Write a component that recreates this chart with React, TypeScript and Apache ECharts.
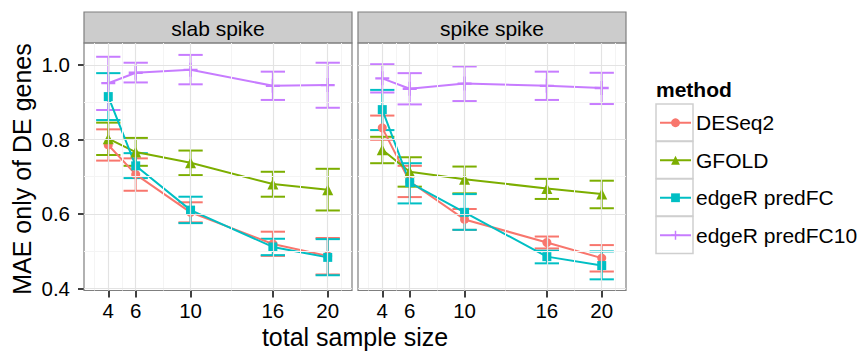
import React, { useEffect, useRef } from "react";
import * as echarts from "echarts";

const sampleSizes = [4, 6, 10, 16, 20];
const methods = ["DESeq2", "GFOLD", "edgeR predFC", "edgeR predFC10"];
const panels = ["slab spike", "spike spike"];
const yTicks = [0.4, 0.6, 0.8, 1.0];
const yMinor = [0.5, 0.7, 0.9];
const xMinor = [3, 5, 8, 13, 18, 21];

// slab spike
const slabDESeq2Mean = [0.785, 0.706, 0.604, 0.519, 0.487];
const slabDESeq2Lo = [0.743, 0.662, 0.577, 0.487, 0.437];
const slabDESeq2Hi = [0.827, 0.749, 0.631, 0.552, 0.535];
const slabGFOLDMean = [0.802, 0.766, 0.737, 0.68, 0.665];
const slabGFOLDLo = [0.758, 0.729, 0.704, 0.646, 0.609];
const slabGFOLDHi = [0.845, 0.804, 0.77, 0.713, 0.721];
const slabPredFCMean = [0.915, 0.729, 0.61, 0.511, 0.483];
const slabPredFCLo = [0.852, 0.696, 0.575, 0.489, 0.435];
const slabPredFCHi = [0.978, 0.763, 0.646, 0.533, 0.532];
const slabPredFC10Mean = [0.951, 0.979, 0.987, 0.944, 0.946];
const slabPredFC10Lo = [0.879, 0.953, 0.948, 0.906, 0.885];
const slabPredFC10Hi = [1.022, 1.006, 1.027, 0.982, 1.006];

// spike spike
const spikeDESeq2Mean = [0.831, 0.687, 0.585, 0.523, 0.481];
const spikeDESeq2Lo = [0.799, 0.645, 0.557, 0.507, 0.445];
const spikeDESeq2Hi = [0.864, 0.729, 0.613, 0.539, 0.516];
const spikeGFOLDMean = [0.772, 0.713, 0.693, 0.668, 0.653];
const spikeGFOLDLo = [0.736, 0.673, 0.655, 0.64, 0.615];
const spikeGFOLDHi = [0.807, 0.752, 0.727, 0.694, 0.689];
const spikePredFCMean = [0.88, 0.684, 0.604, 0.485, 0.461];
const spikePredFCLo = [0.825, 0.628, 0.557, 0.467, 0.424];
const spikePredFCHi = [0.933, 0.736, 0.653, 0.501, 0.499];
const spikePredFC10Mean = [0.964, 0.936, 0.95, 0.944, 0.938];
const spikePredFC10Lo = [0.926, 0.894, 0.903, 0.906, 0.895];
const spikePredFC10Hi = [1.002, 0.978, 0.996, 0.982, 0.979];

const colors = ["#F8766D", "#7CAE00", "#00BFC4", "#C77CFF"];
const PLUS = "path://M5,0h2v5h5v2h-5v5h-2v-5h-5v-2h5z";
const symbols = ["circle", "triangle", "rect", PLUS];
const symbolSizes = [9, 11, 9, 14];

const FONT = "'Liberation Sans', Arial, Helvetica, sans-serif";

const panelData = [
  [
    [slabDESeq2Mean, slabDESeq2Lo, slabDESeq2Hi],
    [slabGFOLDMean, slabGFOLDLo, slabGFOLDHi],
    [slabPredFCMean, slabPredFCLo, slabPredFCHi],
    [slabPredFC10Mean, slabPredFC10Lo, slabPredFC10Hi],
  ],
  [
    [spikeDESeq2Mean, spikeDESeq2Lo, spikeDESeq2Hi],
    [spikeGFOLDMean, spikeGFOLDLo, spikeGFOLDHi],
    [spikePredFCMean, spikePredFCLo, spikePredFCHi],
    [spikePredFC10Mean, spikePredFC10Lo, spikePredFC10Hi],
  ],
];

const CAP_HALF = 0.885;

export default function App() {
  const ref = useRef<HTMLDivElement>(null);
  useEffect(() => {
    if (!ref.current) return;
    const chart = echarts.init(ref.current, undefined, { renderer: "svg" });

    const gridLefts = [84, 358];
    const gridWidth = 268;
    const gridTop = 43;
    const gridHeight = 247.5;

    const grids = gridLefts.map((l) => ({
      left: l,
      top: gridTop,
      width: gridWidth,
      height: gridHeight,
      show: true,
      backgroundColor: "transparent",
      borderColor: "#7f7f7f",
      borderWidth: 1.2,
      z: 5,
    }));

    const xAxes = gridLefts.map((_, i) => ({
      type: "value",
      gridIndex: i,
      min: 2.23,
      max: 21.77,
      axisLine: { show: false },
      splitLine: { show: false },
      axisTick: {
        show: true,
        customValues: sampleSizes,
        length: 7,
        lineStyle: { color: "#000", width: 1.5 },
      },
      axisLabel: {
        show: true,
        customValues: sampleSizes,
        fontSize: 20.5,
        fontFamily: FONT,
        color: "#000",
        margin: 9,
      },
    }));

    const yAxes = gridLefts.map((_, i) => ({
      type: "value",
      gridIndex: i,
      min: 0.394,
      max: 1.059,
      axisLine: { show: false },
      splitLine: { show: false },
      axisTick: {
        show: i === 0,
        customValues: yTicks,
        length: 6,
        lineStyle: { color: "#000", width: 1.5 },
      },
      axisLabel: {
        show: i === 0,
        customValues: yTicks,
        formatter: (v: number) => v.toFixed(1),
        fontSize: 20.5,
        fontFamily: FONT,
        color: "#000",
        margin: 14,
      },
    }));

    const series: any[] = [];

    // grid lines via markLine
    gridLefts.forEach((_, p) => {
      const mk = (vals: number[], key: "xAxis" | "yAxis", color: string, width: number) =>
        vals.map((v) => ({ [key]: v, lineStyle: { color, width, type: "solid" } }));
      series.push({
        type: "line",
        name: "grid" + p,
        xAxisIndex: p,
        yAxisIndex: p,
        data: [],
        silent: true,
        z: 1,
        markLine: {
          silent: true,
          symbol: ["none", "none"],
          label: { show: false },
          emphasis: { disabled: true },
          animation: false,
          data: [
            ...mk(xMinor, "xAxis", "#f4f4f4", 1),
            ...mk(yMinor, "yAxis", "#f4f4f4", 1),
            ...mk(sampleSizes, "xAxis", "#e3e3e3", 1.2),
            ...mk(yTicks, "yAxis", "#e3e3e3", 1.2),
          ],
        },
      });
    });

    // error bars
    panelData.forEach((pd, p) => {
      pd.forEach(([mean, lo, hi], m) => {
        const color = colors[m];
        series.push({
          type: "custom",
          name: methods[m] + " error",
          xAxisIndex: p,
          yAxisIndex: p,
          z: 2,
          silent: true,
          encode: { x: 0, y: [1, 2] },
          data: sampleSizes.map((x, i) => [x, lo[i], hi[i]]),
          renderItem: (params: any, api: any) => {
            const x = api.value(0);
            const l = api.value(1);
            const h = api.value(2);
            const top = api.coord([x, h]);
            const bot = api.coord([x, l]);
            const left = api.coord([x - CAP_HALF, h]);
            const right = api.coord([x + CAP_HALF, h]);
            const hw = (right[0] - left[0]) / 2;
            const style = { stroke: color, lineWidth: 2, fill: null };
            return {
              type: "group",
              children: [
                { type: "line", shape: { x1: top[0], y1: top[1], x2: bot[0], y2: bot[1] }, style },
                { type: "line", shape: { x1: top[0] - hw, y1: top[1], x2: top[0] + hw, y2: top[1] }, style },
                { type: "line", shape: { x1: bot[0] - hw, y1: bot[1], x2: bot[0] + hw, y2: bot[1] }, style },
              ],
            };
          },
        });
      });
    });

    // lines + points
    panelData.forEach((pd, p) => {
      pd.forEach(([mean], m) => {
        series.push({
          type: "line",
          name: methods[m],
          xAxisIndex: p,
          yAxisIndex: p,
          z: 3,
          data: sampleSizes.map((x, i) => [x, mean[i]]),
          symbol: symbols[m],
          symbolSize: symbolSizes[m],
          showAllSymbol: true,
          lineStyle: { color: colors[m], width: 2 },
          itemStyle: { color: colors[m], borderWidth: 0 },
          emphasis: { disabled: true },
        });
      });
    });

    const legendTop = 104;
    const rowH = 37.5;

    const graphic: any[] = [];
    panels.forEach((name, p) => {
      graphic.push({
        type: "rect",
        shape: { x: gridLefts[p], y: 12, width: gridWidth, height: 31 },
        style: { fill: "#cccccc", stroke: "#7f7f7f", lineWidth: 1.2 },
        z: 1,
      });
      graphic.push({
        type: "text",
        x: gridLefts[p] + gridWidth / 2,
        y: 28,
        style: {
          text: name,
          fill: "#000",
          font: `21px ${FONT}`,
          align: "center",
          verticalAlign: "middle",
        },
        z: 2,
      });
    });
    graphic.push({
      type: "text",
      x: (gridLefts[0] + gridLefts[1] + gridWidth) / 2,
      y: 337,
      style: {
        text: "total sample size",
        fill: "#000",
        font: `25px ${FONT}`,
        align: "center",
        verticalAlign: "middle",
      },
    });
    graphic.push({
      type: "text",
      x: 22,
      y: 169,
      rotation: Math.PI / 2,
      style: {
        text: "MAE only of DE genes",
        fill: "#000",
        font: `25px ${FONT}`,
        align: "center",
        verticalAlign: "middle",
      },
    });
    graphic.push({
      type: "text",
      x: 656,
      y: 89,
      style: {
        text: "method",
        fill: "#000",
        font: `bold 21px ${FONT}`,
        align: "left",
        verticalAlign: "middle",
      },
    });
    methods.forEach((_, i) => {
      graphic.push({
        type: "rect",
        shape: { x: 656, y: legendTop + i * rowH, width: 37, height: 37 },
        style: { fill: "#ffffff", stroke: "#cfcfcf", lineWidth: 1.5 },
        z: 0,
      });
    });

    chart.setOption({
      animation: false,
      backgroundColor: "#ffffff",
      grid: grids,
      xAxis: xAxes,
      yAxis: yAxes,
      legend: {
        show: true,
        data: methods,
        orient: "vertical",
        left: 659,
        top: legendTop,
        itemWidth: 31,
        itemHeight: 11,
        itemGap: 0,
        padding: 0,
        selectedMode: false,
        textStyle: {
          fontSize: 21,
          fontFamily: FONT,
          color: "#000",
          lineHeight: rowH,
        },
      },
      graphic,
      series,
    });

    return () => chart.dispose();
  }, []);

  return (
    <div
      ref={ref}
      style={{ position: "absolute", left: 0, top: 0, width: 866, height: 352 }}
    />
  );
}
